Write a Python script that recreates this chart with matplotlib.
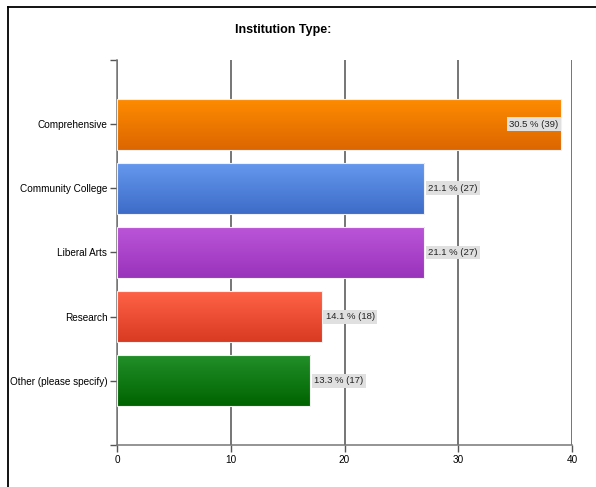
import numpy as np
import matplotlib
matplotlib.use("Agg")
import matplotlib.pyplot as plt
from matplotlib.colors import LinearSegmentedColormap
from matplotlib.lines import Line2D

plt.rcParams["font.family"] = ["Liberation Sans", "DejaVu Sans"]

# chart data
categories = ["Comprehensive", "Community College", "Liberal Arts", "Research", "Other (please specify)"]
counts = [39, 27, 27, 18, 17]
percents = [30.5, 21.1, 21.1, 14.1, 13.3]
x_ticks = [0, 10, 20, 30, 40]

# top / bottom colour of each bar gradient
bar_top = ["#ff8c00", "#6699ee", "#bb55d8", "#ff6347", "#22902a"]
bar_bottom = ["#dd6600", "#3d6cc8", "#9a33bb", "#d83a22", "#006400"]

fig = plt.figure(figsize=(5.96, 4.87), dpi=100)
ax = fig.add_axes([117 / 596, 1 - 445 / 487, (572 - 117) / 596, (445 - 60) / 487])

# frame around the picture (left and top only are visible)
fig.add_artist(Line2D([8 / 596, 8 / 596], [0, 1 - 7 / 487], color="black", lw=1.3))
fig.add_artist(Line2D([8 / 596, 1], [1 - 7 / 487, 1 - 7 / 487], color="black", lw=1.3))

positions = np.arange(1, len(categories) + 1)
bars = ax.barh(positions, counts, height=0.8, color="none", edgecolor="#f0f0f0", lw=0.8, zorder=3)

# row 0 = top colour, last row = bottom colour
grad = np.linspace(0, 1, 64).reshape(-1, 1)
for patch, c_top, c_bot in zip(bars.patches, bar_top, bar_bottom):
    x0, y0 = patch.get_x(), patch.get_y()
    w, h = patch.get_width(), patch.get_height()
    cmap = LinearSegmentedColormap.from_list("g", [c_top, c_bot])
    im = ax.imshow(grad, cmap=cmap, aspect="auto", extent=[x0, x0 + w, y0 + h, y0],
                   origin="upper", zorder=2, interpolation="bilinear")
    im.set_clip_path(patch)

ax.set_xlim(0, 40)
ax.set_ylim(6, 0)

# value labels
for pos, val, pct in zip(positions, counts, percents):
    text = f"{pct} % ({val})"
    box = dict(boxstyle="square,pad=0.25", facecolor="#e0e0e0", edgecolor="none")
    if val > 35:
        ax.text(val - 0.2, pos, text, ha="right", va="center", fontsize=6.8,
                color="#222222", bbox=box, zorder=4)
    else:
        ax.text(val + 0.35, pos, text, ha="left", va="center", fontsize=6.8,
                color="#222222", bbox=box, zorder=4)

ax.set_yticks([0] + list(positions) + [6])
ax.set_yticklabels([""] + categories + [""], fontsize=7.2)
ax.set_xticks(x_ticks)
ax.set_xticklabels([str(t) for t in x_ticks], fontsize=7.2)
ax.tick_params(axis="both", length=5, width=1, color="#555555", pad=2)

ax.xaxis.grid(True, color="#505050", lw=1.1, zorder=1)
ax.set_axisbelow(True)
for side in ["top", "right"]:
    ax.spines[side].set_visible(False)
for side in ["left", "bottom"]:
    ax.spines[side].set_color("#777777")
    ax.spines[side].set_linewidth(1.1)

fig.text(283 / 596, 1 - 30 / 487, "Institution Type:", ha="center", va="center",
         fontsize=9, fontweight="bold")

fig.savefig("out.png", dpi=100)
